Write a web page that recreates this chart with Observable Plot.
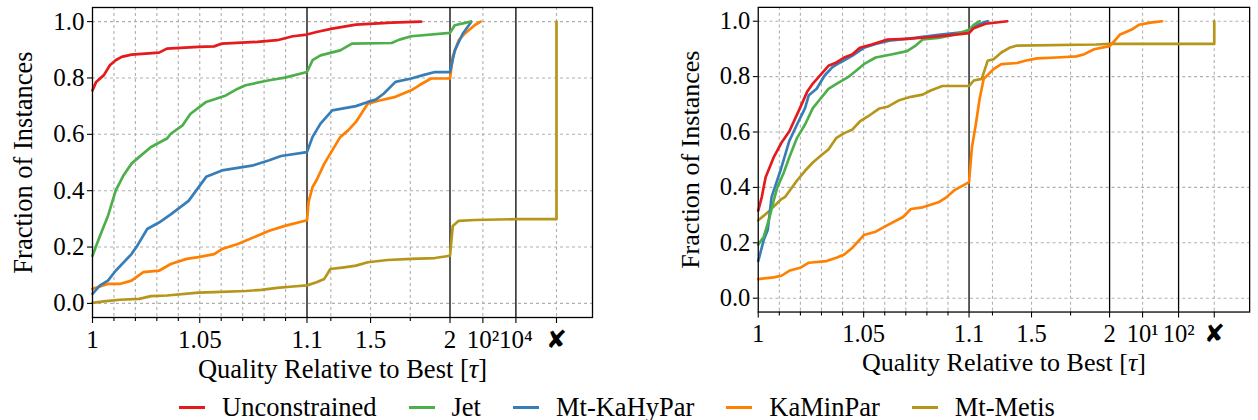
<!DOCTYPE html>
<html><head><meta charset="utf-8">
<script src="https://cdn.jsdelivr.net/npm/d3@7"></script>
<script src="https://cdn.jsdelivr.net/npm/@observablehq/plot@0.6"></script>
<style>
body{margin:0;background:#fff;width:1258px;height:420px;overflow:hidden;position:relative;font-family:"Liberation Serif","Times New Roman","DejaVu Serif",serif}
#left{position:absolute;left:0;top:0}
#right{position:absolute;left:629px;top:0}
#legend{position:absolute;top:393px;left:179px;display:flex;align-items:center;font-size:26.5px;white-space:nowrap;line-height:28px}
.item{display:flex;align-items:center;margin-right:32px}
.sw{width:26px;height:3px;margin-right:17px}
</style></head><body>
<div id="left"></div><div id="right"></div><div id="legend"></div>
<script>
// ---------- data ----------
const FAIL = Infinity; // the "✗" column (infeasible / failed)
const seriesNames = ["Unconstrained", "Jet", "Mt-KaHyPar", "KaMinPar", "Mt-Metis"];
const seriesColors = ["#e41a1c", "#4daf4a", "#377eb8", "#ff7f00", "#b5961a"];

// left panel: [tau, fraction]
const leftUnconstrained = [[1.0,.756],[1.0017,.786],[1.0053,.81],[1.0081,.845],[1.0108,.863],[1.0136,.875],[1.0182,.883],[1.031,.89],[1.0347,.904],[1.0494,.91],[1.0567,.912],[1.0604,.922],[1.0769,.928],[1.0861,.934],[1.0934,.948],[1.1,.954],[1.16,.963],[1.259,.975],[1.408,.989],[1.632,.996],[1.818,1.0]];
const leftJet = [[1.0,.169],[1.0035,.24],[1.0072,.31],[1.0108,.40],[1.0145,.455],[1.0182,.496],[1.0218,.52],[1.0273,.555],[1.0347,.585],[1.0365,.602],[1.042,.632],[1.0457,.673],[1.053,.715],[1.0622,.738],[1.0677,.762],[1.0714,.774],[1.0824,.792],[1.0897,.801],[1.1,.821],[1.135,.863],[1.185,.88],[1.309,.898],[1.383,.922],[1.632,.924],[1.682,.936],[1.756,.948],[2.0,.96],[2.95,.987],[18.9,1.0]];
const leftKaHyPar = [[1.0,.034],[1.0035,.064],[1.0072,.081],[1.0108,.116],[1.0182,.175],[1.0209,.205],[1.0255,.264],[1.031,.287],[1.0365,.316],[1.0448,.364],[1.053,.449],[1.0604,.472],[1.075,.49],[1.0824,.508],[1.0879,.523],[1.1,.537],[1.135,.591],[1.185,.638],[1.259,.685],[1.408,.70],[1.483,.715],[1.533,.723],[1.582,.744],[1.657,.786],[1.756,.798],[1.831,.81],[1.905,.821],[2.0,.821],[2.95,.898],[6.9,.957],[18.9,.996],[20,1.0]];
const leftKaMinPar = [[1.0,.052],[1.0072,.069],[1.0127,.069],[1.0182,.081],[1.0237,.111],[1.031,.116],[1.0365,.14],[1.0439,.158],[1.0494,.164],[1.0567,.175],[1.0604,.193],[1.0677,.211],[1.0769,.24],[1.0824,.258],[1.0897,.275],[1.1,.295],[1.11,.36],[1.135,.413],[1.16,.437],[1.209,.496],[1.259,.543],[1.309,.59],[1.359,.614],[1.408,.644],[1.483,.709],[1.557,.72],[1.657,.733],[1.756,.756],[1.806,.774],[1.881,.798],[2.0,.798],[2.47,.875],[4.39,.934],[8.8,.957],[32.2,.987],[72.7,1.0]];
const leftMetis = [[1.0,.002],[1.0053,.007],[1.0127,.013],[1.0218,.016],[1.0273,.026],[1.0347,.028],[1.0494,.038],[1.0567,.04],[1.0714,.044],[1.0787,.048],[1.0861,.055],[1.0934,.06],[1.1,.064],[1.16,.075],[1.209,.087],[1.247,.122],[1.334,.128],[1.408,.134],[1.483,.146],[1.607,.154],[1.756,.158],[1.905,.161],[2.0,.169],[2.47,.275],[4.39,.293],[32.2,.296],[10000,.299],[FAIL,.299],[FAIL,1.0]];

// right panel: [tau, fraction]
const rightUnconstrained = [[1.0,.316],[1.0017,.366],[1.0035,.437],[1.0073,.508],[1.011,.561],[1.0147,.602],[1.0194,.68],[1.0232,.745],[1.0259,.775],[1.0333,.839],[1.0371,.851],[1.0408,.869],[1.0445,.88],[1.0482,.904],[1.0538,.916],[1.0613,.934],[1.0706,.936],[1.0818,.943],[1.0892,.948],[1.1,.957],[1.13,.975],[1.206,.991],[1.345,1.0]];
const rightJet = [[1.0,.193],[1.0026,.222],[1.0054,.293],[1.0073,.352],[1.0091,.401],[1.0119,.449],[1.0147,.508],[1.0184,.579],[1.0222,.627],[1.0259,.686],[1.0296,.721],[1.0333,.756],[1.0371,.774],[1.0426,.798],[1.0464,.821],[1.0501,.845],[1.0557,.869],[1.0631,.88],[1.0706,.892],[1.0743,.91],[1.078,.934],[1.0855,.94],[1.0929,.951],[1.1,.969],[1.13,.987],[1.168,1.0]];
const rightKaHyPar = [[1.0,.134],[1.0026,.21],[1.0045,.246],[1.0063,.364],[1.011,.472],[1.0147,.567],[1.0184,.627],[1.0222,.686],[1.024,.733],[1.0277,.756],[1.0315,.804],[1.0352,.834],[1.0389,.851],[1.0445,.875],[1.0501,.904],[1.0557,.918],[1.0631,.931],[1.0743,.94],[1.0855,.951],[1.1,.963],[1.13,.981],[1.206,.998],[1.22,1.0]];
const rightKaMinPar = [[1.0,.069],[1.0073,.075],[1.011,.081],[1.0147,.099],[1.0203,.111],[1.024,.128],[1.0324,.134],[1.0371,.146],[1.0408,.158],[1.0445,.181],[1.0501,.228],[1.0557,.24],[1.0613,.264],[1.0687,.293],[1.0724,.322],[1.078,.328],[1.0855,.346],[1.0892,.364],[1.0929,.389],[1.0985,.413],[1.1,.419],[1.118,.543],[1.143,.626],[1.168,.721],[1.194,.792],[1.257,.827],[1.307,.845],[1.408,.849],[1.459,.857],[1.535,.866],[1.661,.869],[1.788,.873],[1.838,.881],[1.901,.899],[2.0,.91],[2.51,.934],[2.95,.951],[5.22,.969],[8.06,.987],[16.3,.995],[34.1,1.0]];
const rightMetis = [[1.0,.281],[1.0054,.316],[1.011,.358],[1.0128,.366],[1.0184,.425],[1.0222,.46],[1.0259,.49],[1.0296,.514],[1.0333,.537],[1.0371,.579],[1.0408,.596],[1.0445,.608],[1.0482,.638],[1.052,.656],[1.0575,.685],[1.0613,.691],[1.0669,.715],[1.0724,.727],[1.078,.735],[1.0818,.75],[1.0873,.766],[1.1,.766],[1.13,.786],[1.181,.792],[1.219,.857],[1.257,.863],[1.307,.887],[1.358,.904],[1.408,.912],[1.914,.916],[2.0,.918],[FAIL,.918],[FAIL,1.0]];

// axis ticks
const leftTickValues = [1, 1.05, 1.1, 1.5, 2, 100, 10000, FAIL];
const leftTickLabels = ["1", "1.05", "1.1", "1.5", "2", "10²", "10⁴", "✘"];
const rightTickValues = [1, 1.05, 1.1, 1.5, 2, 10, 100, FAIL];
const rightTickLabels = ["1", "1.05", "1.1", "1.5", "2", "10¹", "10²", "✘"];
const minorTickValues = [1.01, 1.02, 1.03, 1.04, 1.06, 1.07, 1.08, 1.09, 1.25, 1.75];
const yTickValues = [0, 0.2, 0.4, 0.6, 0.8, 1.0];
const xLabel = "Quality Relative to Best [τ]";
const yLabel = "Fraction of Instances";

// ---------- segmented x mapping (linear | linear | log | ✗) ----------
const SEG1 = 214.5, SEG2 = 357.5, XFAIL = 464, XMAX = 500;
function makeU(logMax, seg3End) {
  return t => t === FAIL ? XFAIL
    : t <= 1.1 ? (t - 1) / 0.1 * SEG1
    : t <= 2 ? SEG1 + (t - 1.1) / 0.9 * (SEG2 - SEG1)
    : SEG2 + Math.log10(t - 1) / Math.log10(logMax - 1) * (seg3End - SEG2);
}

const FONT = "'Liberation Serif', 'Times New Roman', 'DejaVu Serif', serif";

function panel({series, tickValues, tickLabels, logMax, seg3End, width, marginLeft, marginRight}) {
  const u = makeU(logMax, seg3End);
  const majorU = tickValues.map(u);
  const labelOf = new Map(majorU.map((v, i) => [v, tickLabels[i]]));
  const gridXU = [...minorTickValues, 1.05, 1.5, tickValues[5], FAIL].map(u);
  const blackU = [1.1, 2, logMax].map(u);
  const gridStyle = {stroke: "#b0b0b0", strokeOpacity: 1, strokeWidth: 1.1, strokeDasharray: "3,3"};
  const order = [4, 3, 2, 1, 0];
  const svg = Plot.plot({
    width, height: 385,
    marginLeft, marginRight, marginTop: 7, marginBottom: 68,
    style: {fontFamily: FONT, fontSize: "25px", background: "white", overflow: "visible"},
    x: {domain: [0, XMAX]},
    y: {domain: [-0.05, 1.05]},
    marks: [
      Plot.gridY(yTickValues, gridStyle),
      Plot.gridX(gridXU, gridStyle),
      Plot.ruleX(blackU, {stroke: "black", strokeWidth: 1.3}),
      ...order.map(i => Plot.line(series[i], {
        x: d => u(d[0]), y: d => d[1],
        stroke: seriesColors[i], strokeWidth: 2.7
      })),
      Plot.frame({stroke: "black", strokeWidth: 1.3}),
      Plot.axisX(minorTickValues.map(u), {tickSize: 4, tickFormat: () => "", label: null, strokeWidth: 1.1}),
      Plot.axisX(majorU, {
        tickSize: 6, tickPadding: 7, strokeWidth: 1.1, fontSize: 25, fontFamily: FONT,
        tickFormat: v => labelOf.get(v),
        label: xLabel, labelAnchor: "center", labelOffset: 60, labelArrow: "none"
      }),
      Plot.axisY(yTickValues, {
        tickSize: 5, tickPadding: 3, strokeWidth: 1.1, fontSize: 25, fontFamily: FONT,
        tickFormat: d3.format(".1f"),
        label: yLabel, labelAnchor: "center", labelOffset: 79, labelArrow: "none"
      })
    ]
  });
  // axis titles: slightly larger, italic τ as in the original
  svg.querySelectorAll("text").forEach(t => {
    if (t.textContent === xLabel) {
      t.style.fontSize = "26.5px";
      t.textContent = "";
      const a = document.createElementNS("http://www.w3.org/2000/svg", "tspan");
      a.textContent = "Quality Relative to Best [";
      const b = document.createElementNS("http://www.w3.org/2000/svg", "tspan");
      b.textContent = "τ"; b.setAttribute("font-style", "italic");
      const c = document.createElementNS("http://www.w3.org/2000/svg", "tspan");
      c.textContent = "]";
      t.append(a, b, c);
    } else if (t.textContent === yLabel) {
      t.style.fontSize = "26.5px";
    }
  });
  return svg;
}

document.getElementById("left").append(panel({
  series: [leftUnconstrained, leftJet, leftKaHyPar, leftKaMinPar, leftMetis],
  tickValues: leftTickValues, tickLabels: leftTickLabels,
  logMax: 10000, seg3End: 423.4, width: 629, marginLeft: 92, marginRight: 37
}));
document.getElementById("right").append(panel({
  series: [rightUnconstrained, rightJet, rightKaHyPar, rightKaMinPar, rightMetis],
  tickValues: rightTickValues, tickLabels: rightTickLabels,
  logMax: 100, seg3End: 427.7, width: 640, marginLeft: 131, marginRight: 9
}));

const legend = document.getElementById("legend");
seriesNames.forEach((name, i) => {
  const item = document.createElement("div");
  item.className = "item";
  const sw = document.createElement("span");
  sw.className = "sw";
  sw.style.background = seriesColors[i];
  const label = document.createElement("span");
  label.textContent = name;
  item.append(sw, label);
  legend.append(item);
});
</script>
</body></html>
